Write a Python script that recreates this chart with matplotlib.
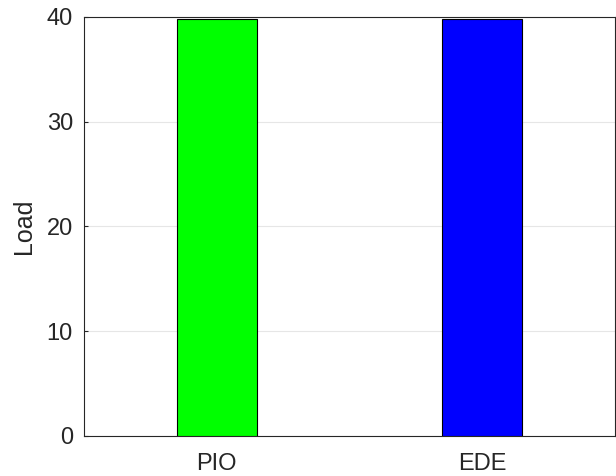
import matplotlib
matplotlib.use("Agg")
import matplotlib.pyplot as plt

methods = ["PIO", "EDE"]
loads = [39.85, 39.85]
colors = ["#00ff00", "#0000ff"]

plt.rcParams["font.family"] = ["Liberation Sans", "DejaVu Sans"]

fig = plt.figure(figsize=(6.16, 4.76), dpi=100)
ax = fig.add_axes([84 / 616, 40 / 476, 531 / 616, 419 / 476])

x = list(range(1, len(methods) + 1))
ax.bar(x, loads, width=0.3, color=colors, edgecolor="black", linewidth=0.8, zorder=3)

ax.set_xlim(0.5, 2.5)
ax.set_ylim(0, 40)
ax.set_xticks(x)
ax.set_xticklabels(methods)
ax.set_yticks([0, 10, 20, 30, 40])
ax.set_ylabel("Load", fontsize=18, color="#262626", labelpad=8)
ax.tick_params(axis="y", labelsize=17, colors="#262626", direction="in", length=3, pad=8)
ax.tick_params(axis="x", labelsize=17, colors="#262626", length=0, pad=12)
ax.yaxis.grid(True, color="#e6e6e6", linewidth=0.8, zorder=0)
for s in ax.spines.values():
    s.set_color("#262626")
    s.set_linewidth(0.8)

fig.savefig("out.png", dpi=100)
